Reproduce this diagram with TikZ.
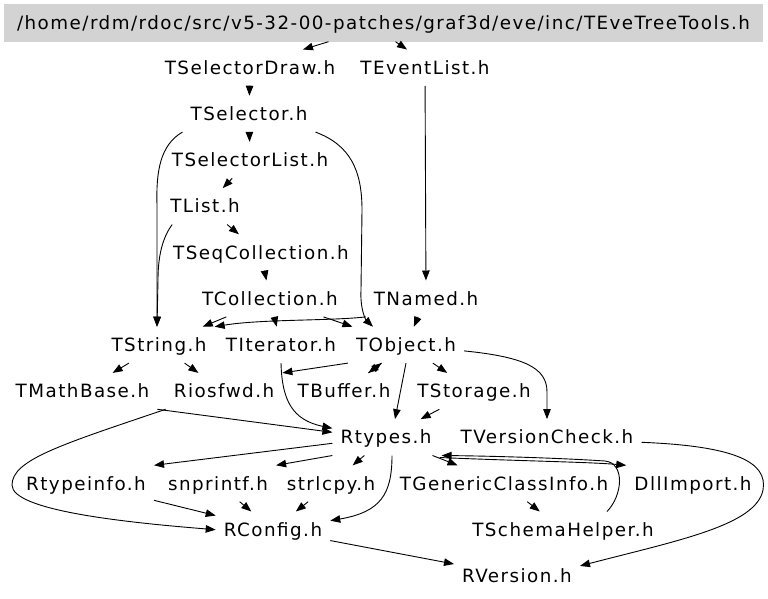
\documentclass[tikz,border=0pt]{standalone}
\usepackage{fontspec}
\setmainfont{DejaVu Sans}[LetterSpace=8]
\usetikzlibrary{arrows.meta}

\definecolor{headgray}{RGB}{211,211,211}

\begin{document}
\begin{tikzpicture}[x=1pt, y=-1pt, >={Triangle[length=10pt,width=7.5pt]},
    font=\fontsize{18.3}{20}\selectfont,
    file/.style={inner xsep=8pt, inner ysep=0pt, text height=13.3pt, text depth=0pt, minimum height=36pt},
    dep/.style={->, line width=0.9pt}]
    \useasboundingbox (0,0) rectangle (768,598);

    % Header file
    \node[fill=headgray, minimum width=759pt, minimum height=38pt, inner sep=0pt,
          text height=13.3pt, text depth=0pt] (top) at (383.5,22.5)
          {/home/rdm/rdoc/src/v5-32-00-patches/graf3d/eve/inc/TEveTreeTools.h};

    % Included files
    \node[file] (sdraw)   at (250,67.7)  {TSelectorDraw.h};
    \node[file] (evlist)  at (425,67.7)  {TEventList.h};
    \node[file] (sel)     at (249,113.9) {TSelector.h};
    \node[file] (sellist) at (250,160.1) {TSelectorList.h};
    \node[file] (tlist)   at (205,206.3) {TList.h};
    \node[file] (seqcoll) at (261,252.5) {TSeqCollection.h};
    \node[file] (coll)    at (270,298.7) {TCollection.h};
    \node[file] (named)   at (426,298.7) {TNamed.h};
    \node[file] (tstr)    at (159,344.9) {TString.h};
    \node[file] (iter)    at (281,344.9) {TIterator.h};
    \node[file] (tobj)    at (406,344.9) {TObject.h};
    \node[file] (mathb)   at (82.5,391.1) {TMathBase.h};
    \node[file] (iosfwd)  at (224,391.1) {Riosfwd.h};
    \node[file] (tbuf)    at (344,391.1) {TBuffer.h};
    \node[file] (tstor)   at (474,391.1) {TStorage.h};
    \node[file] (rtypes)  at (386,437.3) {Rtypes.h};
    \node[file] (vcheck)  at (547,437.3) {TVersionCheck.h};
    \node[file] (rtinfo)  at (86,483.5)  {Rtypeinfo.h};
    \node[file] (snpr)    at (218,483.5) {snprintf.h};
    \node[file] (strl)    at (331,483.5) {strlcpy.h};
    \node[file] (gcinfo)  at (504,483.5) {TGenericClassInfo.h};
    \node[file] (dllimp)  at (693,483.5) {DllImport.h};
    \node[file] (rconf)   at (273,529.7) {RConfig.h};
    \node[file] (schema)  at (563,529.7) {TSchemaHelper.h};
    \node[file] (rvers)   at (517,575.9) {RVersion.h};

    % From the header
    \draw[dep] ([xshift=-55pt]top.south) -- ([xshift=53pt]sdraw.north);
    \draw[dep] ([xshift=12pt]top.south) -- ([xshift=-18pt]evlist.north);

    % Selector chain
    \draw[dep] (sdraw) -- (sel);
    \draw[dep] (sel) -- (sellist);
    \draw[dep] (sellist) -- (tlist);
    \draw[dep] (tlist) -- (seqcoll);
    \draw[dep] (seqcoll) -- (coll);
    \draw[dep] (evlist) -- (named);

    % Long curves into TString.h and TObject.h
    \draw[dep] (sel.south west) .. controls (160,145) and (156,172) .. (157,205) -- ([xshift=-2pt]tstr.north);
    \draw[dep] ([xshift=10pt]tlist.south west) .. controls (164,236) and (158,252) .. (158,280) -- ([xshift=-2pt]tstr.north);
    \draw[dep] (sel.south east) .. controls (350,145) and (362,170) .. (362,210) -- (361,290)
        .. controls (360,310) and (366,320) .. ([xshift=-33pt]tobj.north);

    % Into TString.h, TIterator.h and TObject.h
    \draw[dep] (coll) -- (tstr);
    \draw[dep] (coll) -- (iter);
    \draw[dep] (coll) -- (tobj);
    \draw[dep] (named.south west) .. controls (330,321) and (262,319) .. (tstr.north east);
    \draw[dep] (named) -- (tobj);

    % Out of TString.h and TObject.h
    \draw[dep] (tstr) -- (mathb);
    \draw[dep] (tstr) -- (iosfwd);
    \draw[dep] (tobj.south west) -- (iosfwd.north east);
    \draw[dep] (tobj) -- (tbuf);
    \draw[dep] (tbuf) -- (tobj);
    \draw[dep] (tobj) -- (tstor);
    \draw[dep] (tobj.south) -- ([xshift=9pt]rtypes.north);
    \draw[dep] ([yshift=-6pt]tobj.east) .. controls (525,357) and (547,368) .. (547,392) -- (vcheck.north);
    \draw[dep] (tstor) -- (rtypes);
    \draw[dep] (iter.south) .. controls (282,400) and (292,420) .. ([yshift=9pt]rtypes.west);

    % Into Rtypes.h and RConfig.h
    \draw[dep] (mathb.south east) -- ([yshift=5pt]rtypes.west);
    \draw[dep] (iosfwd.south west) .. controls (60,445) and (12,460) .. (12,485)
        .. controls (12,510) and (120,522) .. (rconf.west);
    \draw[dep] (rtinfo) -- (rconf);
    \draw[dep] (snpr) -- (rconf);
    \draw[dep] (strl) -- (rconf);

    % Out of Rtypes.h
    \draw[dep] ([yshift=-6pt]rtypes.west) -- (rtinfo.north east);
    \draw[dep] (rtypes.south west) -- (snpr.north east);
    \draw[dep] (rtypes) -- (strl);
    \draw[dep] ([xshift=6pt]rtypes.south) .. controls (392,495) and (380,512) .. ([yshift=9pt]rconf.east);
    \draw[dep] (rtypes) -- (gcinfo);
    \draw[dep] ([yshift=-2pt]rtypes.south east) .. controls (520,461) and (590,462) .. (dllimp.north west);
    \draw[dep] ([xshift=44pt]schema.north) .. controls (623,495) and (625,463) .. (605,461)
        .. controls (560,458) and (490,456) .. ([xshift=2pt]rtypes.south east);
    \draw[dep] (gcinfo) -- (schema);

    % Into RVersion.h
    \draw[dep] (rconf) -- (rvers);
    \draw[dep] ([yshift=-5pt]vcheck.east) .. controls (735,446) and (768,462) .. (763,490)
        .. controls (756,525) and (680,540) .. ([yshift=10pt]rvers.east);
\end{tikzpicture}
\end{document}
